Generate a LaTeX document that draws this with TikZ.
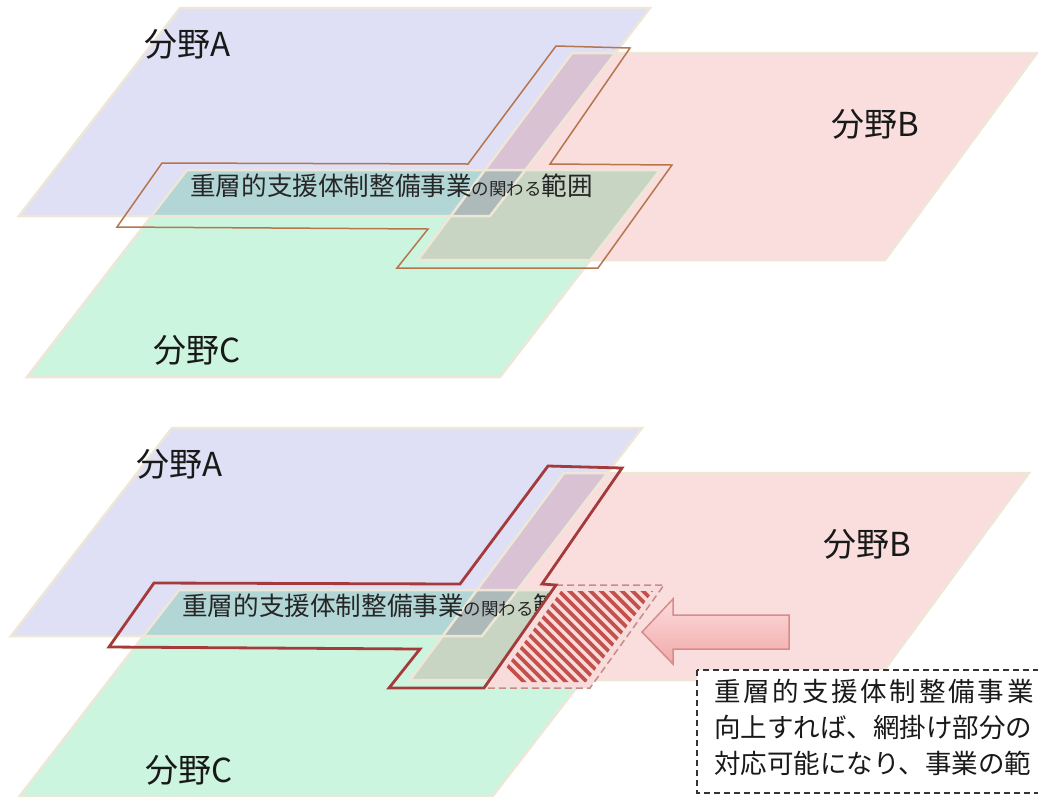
\documentclass[tikz,border=0pt]{standalone}
\usepackage{fontspec}
\setmainfont{Noto Sans CJK JP}
\usetikzlibrary{calc}
\definecolor{planeA}{HTML}{DFDFF5}
\definecolor{planeB}{HTML}{FADEDE}
\definecolor{planeC}{HTML}{CCF5DF}
\definecolor{edgecream}{HTML}{EEE7D8}
\definecolor{frameTop}{HTML}{B5764E}
\definecolor{frameBot}{HTML}{A53A3A}
\definecolor{hatchred}{HTML}{C4504C}
\definecolor{hatchbg}{HTML}{F8DCDC}
\definecolor{dashrose}{HTML}{C98A86}
\definecolor{arrowtop}{HTML}{FCDCDC}
\definecolor{arrowbot}{HTML}{F2A8A8}
\definecolor{arrowedge}{HTML}{D98A8A}
\tikzset{
  planeedge/.style={draw=edgecream, line width=2.5pt, line join=miter},
  fieldlabel/.style={font=\fontsize{33}{36}\selectfont, text=black!90, inner sep=0pt},
  scopetext/.style={font=\fontsize{25.6}{28}\selectfont, inner sep=0pt, anchor=west, text=black!85},
  framelineTop/.style={draw=frameTop, line width=1.5pt, line join=miter},
  framelineBot/.style={draw=frameBot, line width=2.8pt, line join=miter},
  hatchline/.style={draw=hatchred, line width=3.6pt},
  hatchedge/.style={draw=dashrose, line width=1.5pt, dash pattern=on 7pt off 4pt},
  notebox/.style={draw=black!80, line width=1.2pt, dash pattern=on 6pt off 4pt, fill=white},
  notetext/.style={font=\fontsize{26.5}{36}\selectfont, inner sep=0pt, anchor=north west, align=left, text=black!90},
  bigarrow/.style={draw=arrowedge, line width=1.5pt, top color=arrowtop, bottom color=arrowbot, line join=miter},
}
\newcommand\mkplanes{%
  \begin{scope}[blend mode=multiply]
    \fill[planeA] (180,8) -- (650,8) -- (490,216) -- (19,216) -- cycle;
    \fill[planeB] (572,53) -- (1037,53) -- (885,260) -- (418,260) -- cycle;
    \fill[planeC] (187,170) -- (660,170) -- (500,377) -- (27,377) -- cycle;
  \end{scope}
  \draw[planeedge] (180,8) -- (650,8) -- (490,216) -- (19,216) -- cycle;
  \draw[planeedge] (572,53) -- (1037,53) -- (885,260) -- (418,260) -- cycle;
  \draw[planeedge] (187,170) -- (660,170) -- (500,377) -- (27,377) -- cycle;
  \node[fieldlabel] (labA) at (188,44) {分野A};
  \node[fieldlabel] (labB) at (875,124) {分野B};
  \node[fieldlabel] (labC) at (197,350) {分野C};
  \node[scopetext] (scope) at (190,186) {重層的支援体制整備事業{\fontsize{17.5}{20}\selectfont の関わる}範囲};
}
\begin{document}
\begin{tikzpicture}[x=1pt,y=-1pt]
\useasboundingbox (0,0) rectangle (1038,796);
\clip (0,0) rectangle (1038,796);
% ---------- upper diagram ----------
\begin{scope}[name prefix=up-]
  \mkplanes
  \draw[framelineTop] (556,46) -- (630,48) -- (550,164) -- (672,165) -- (598,268)
     -- (397,268) -- (428,229) -- (117,227) -- (162,163) -- (468,164) -- cycle;
\end{scope}
% ---------- lower diagram ----------
\begin{scope}[shift={(-8,420)}, name prefix=low-]
  \mkplanes
  % hatched extension
  \fill[hatchbg] (564,165) -- (672,165) -- (598,268) -- (492,268) -- cycle;
  \begin{scope}
    \clip (569,171) -- (661,171) -- (594,262) -- (504,262) -- cycle;
    \foreach \i in {0,...,30} {
      \draw[hatchline] (420+\i*10.5,150) -- ++(140,140);
    }
  \end{scope}
  \draw[hatchedge] (564,165) -- (672,165) -- (598,268) -- (492,268);
  \draw[framelineBot] (556,46) -- (630,48) -- (550,164) -- (564,165) -- (492,268)
     -- (397,268) -- (428,229) -- (117,227) -- (162,163) -- (468,164) -- cycle;
\end{scope}
% ---------- arrow ----------
\draw[bigarrow] (642,632) -- (673,599) -- (673,615) -- (789,615) -- (789,649)
   -- (673,649) -- (673,664) -- cycle;
% ---------- note box ----------
\draw[notebox] (697,670) rectangle (1060,793);
\node[notetext] (note) at (714,679) {{\addfontfeature{LetterSpace=10.5}重層的支援体制整備事業}\\向上すれば、網掛け部分の\\対応可能になり、事業の範};
\end{tikzpicture}
\end{document}
